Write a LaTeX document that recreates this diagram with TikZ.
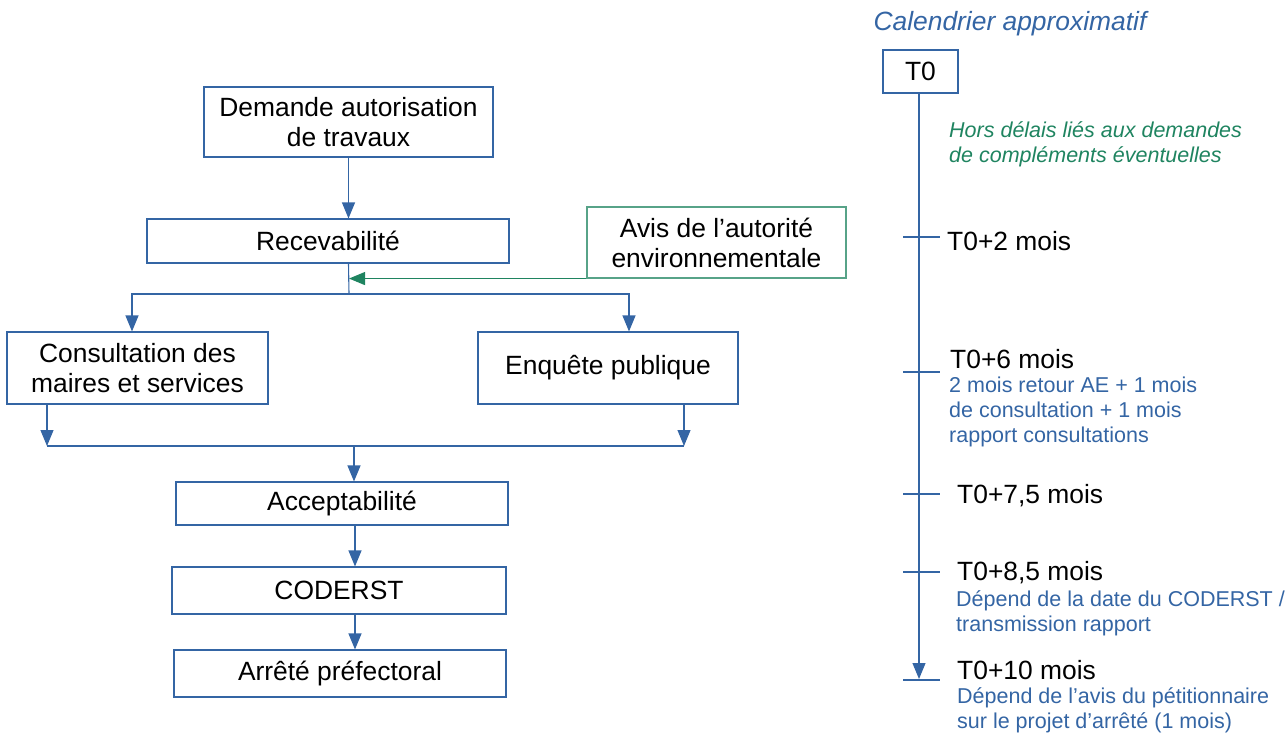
\documentclass[tikz,border=0pt]{standalone}
\usepackage{fontspec}
\setmainfont{Liberation Sans}
\usetikzlibrary{arrows.meta}
\definecolor{lblue}{HTML}{3465A4}
\definecolor{lgreen}{HTML}{1F8460}
\tikzset{
  box/.style={draw=lblue, line width=1.1pt, inner sep=0pt, align=center,
    font=\fontsize{26.4}{30}\selectfont},
  gbox/.style={box, draw=lgreen!75},
  arr/.style={draw=lblue, line width=1.1pt, -{Triangle[length=16pt,width=13pt]}},
  garr/.style={draw=lgreen, line width=1.1pt, -{Triangle[length=16pt,width=13pt]}},
  wire/.style={draw=lblue, line width=1.1pt},
  tick/.style={draw=lblue, line width=1.1pt},
  big/.style={inner sep=0pt, anchor=west, font=\fontsize{26.4}{30}\selectfont},
  note/.style={inner sep=0pt, anchor=west, align=left, text=lblue,
    font=\fontsize{21.5}{25}\selectfont},
}
\begin{document}
\begin{tikzpicture}[x=1pt, y=-1pt]
\useasboundingbox (0,0) rectangle (1285,733);

% ---- procedure flow ----
\node[box, minimum width=289pt, minimum height=70pt] (dem) at (348.5,122)
  {Demande autorisation\\de travaux};
\node[box, minimum width=362pt, minimum height=44pt] (rec) at (328,241) {Recevabilité};
\node[gbox, minimum width=259pt, minimum height=71pt] (avis) at (716.5,242.5)
  {Avis de l’autorité\\environnementale};
\node[box, minimum width=261pt, minimum height=72pt] (cons) at (137.5,368)
  {Consultation des\\maires et services};
\node[box, minimum width=260pt, minimum height=72pt] (enq) at (608,368) {Enquête publique};
\node[box, minimum width=332pt, minimum height=43pt] (acc) at (342,503.5) {Acceptabilité};
\node[box, minimum width=334pt, minimum height=47pt] (cod) at (339,590.5) {CODERST};
\node[box, minimum width=332pt, minimum height=47pt] (arf) at (340,673.5) {Arrêté préfectoral};

\coordinate (split) at (349,294);
\coordinate (merge) at (354,446);

\draw[arr] (dem.south) -- (dem.south |- rec.north);
\draw[wire] (dem.south |- rec.south) -- (split);
\draw[garr] (avis.south west) -- (avis.south west -| split);
\draw[arr] (split) -| ([xshift=-5.5pt]cons.north);
\draw[arr] (split) -| ([xshift=21pt]enq.north);
\draw[arr] ([xshift=-90.5pt]cons.south) -- ([xshift=-90.5pt]cons.south |- merge);
\draw[arr] ([xshift=76pt]enq.south) -- ([xshift=76pt]enq.south |- merge);
\draw[wire] ([xshift=-90.5pt]cons.south |- merge) -- ([xshift=76pt]enq.south |- merge);
\draw[arr] (merge) -- (merge |- acc.north);
\draw[arr] ([xshift=13pt]acc.south) -- ([xshift=13pt]acc.south |- cod.north);
\draw[arr] ([xshift=16pt]cod.south) -- ([xshift=16pt]cod.south |- arf.north);

% ---- timeline ----
\node[inner sep=0pt, text=lblue, font=\fontsize{26.4}{30}\selectfont\itshape]
  (cal) at (1010,24) {Calendrier approximatif};
\node[box, minimum width=75pt, minimum height=43pt] (t0) at (920.5,71.5) {T0};
\coordinate (tend) at (919,679);
\draw[arr] (t0.south -| tend) -- (tend);

\foreach \y in {237,372,494,572,680}
  \draw[tick] (903,\y) -- (940,\y);

\node[inner sep=0pt, anchor=west, align=left, text=lgreen,
  font=\fontsize{21.5}{25}\selectfont\itshape] (hors) at (949,144.5)
  {Hors délais liés aux demandes\\de compléments éventuelles};
\node[big] (m2) at (947,241) {T0+2 mois};
\node[big] (m6) at (950,359) {T0+6 mois};
\node[note] (n6) at (949,412)
  {2 mois retour AE + 1 mois\\de consultation + 1 mois\\rapport consultations};
\node[big] (m75) at (957,496) {T0+7,5 mois};
\node[big] (m85) at (957,573) {T0+8,5 mois};
\node[note] (n85) at (956,613.5)
  {Dépend de la date du CODERST /\\transmission rapport};
\node[big] (m10) at (957,670) {T0+10 mois};
\node[note] (n10) at (957,710.5)
  {Dépend de l’avis du pétitionnaire\\sur le projet d’arrêté (1 mois)};
\end{tikzpicture}
\end{document}
